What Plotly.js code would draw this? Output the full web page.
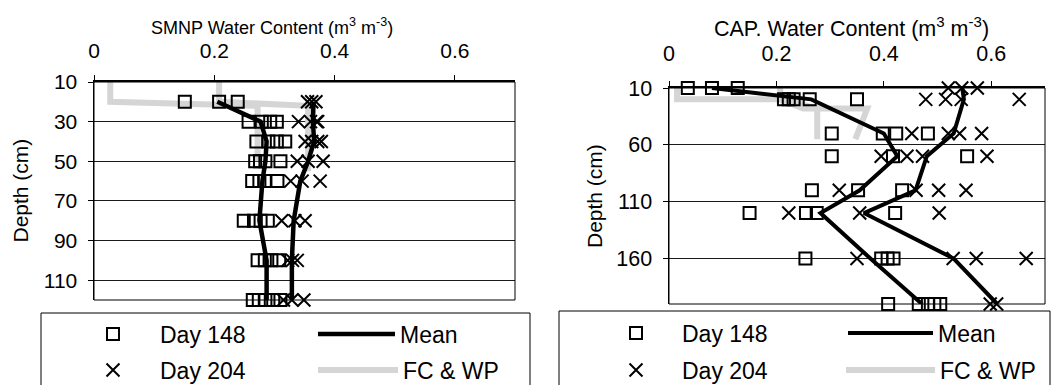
<!DOCTYPE html>
<html>
<head>
<meta charset="utf-8">
<script src="https://cdn.plot.ly/plotly-3.0.1.min.js"></script>
<style>html,body{margin:0;padding:0;background:#fff;overflow:hidden;width:1058px;height:385px;}#chart{width:1058px;height:420px;}</style>
</head>
<body>
<div id="chart"></div>
<script>
// ---------- SMNP (left panel) ----------
const smnpDepth148 = [20,20,20, 30,30,30,30, 40,40,40,40, 50,50,50,50, 60,60,60,60, 80,80,80,80, 100,100,100,100, 120,120,120,120,120];
const smnpDay148   = [0.151,0.208,0.239, 0.257,0.279,0.293,0.304, 0.270,0.290,0.304,0.318, 0.268,0.276,0.285,0.310, 0.263,0.275,0.284,0.305, 0.249,0.266,0.277,0.289, 0.272,0.284,0.295,0.308, 0.264,0.274,0.285,0.298,0.310];
const smnpDepth204 = [20,20,20, 30,30,30,30, 40,40,40,40, 50,50,50, 60,60,60, 80,80,80, 100,100,100, 120,120,120];
const smnpDay204   = [0.355,0.362,0.369, 0.340,0.360,0.370,0.372, 0.351,0.362,0.372,0.378, 0.338,0.356,0.381, 0.327,0.346,0.376, 0.312,0.334,0.351, 0.322,0.330,0.338, 0.315,0.329,0.349];
const smnpMeanDepth = [20,30,40,50,60,80,100,120];
const smnpMean148   = [0.205,0.277,0.287,0.285,0.280,0.275,0.287,0.287];
const smnpMean204   = [0.365,0.364,0.366,0.356,0.343,0.332,0.329,0.329];
const smnpWPDepth = [10,20,22,50];
const smnpWP      = [0.027,0.027,0.272,0.272];
const smnpFCDepth = [10,20,22,55];
const smnpFC      = [0.208,0.208,0.356,0.356];

// ---------- CAP (right panel) ----------
const capDepth148 = [10,10,10, 20,20,20,20,20, 50,50,50,50, 70,70,70, 100,100,100, 120,120,120,120, 160,160,160,160, 200,200,200,200,200];
const capDay148   = [0.035,0.080,0.128, 0.214,0.223,0.232,0.262,0.350, 0.303,0.398,0.423,0.482, 0.303,0.417,0.555, 0.266,0.352,0.434, 0.150,0.255,0.275,0.421, 0.254,0.395,0.407,0.418, 0.408,0.465,0.482,0.494,0.505];
const capDepth204 = [10,10,10, 20,20,20,20, 50,50,50,50, 70,70,70,70, 100,100,100,100, 120,120,120, 160,160,160,160, 200,200];
const capDay204   = [0.520,0.545,0.574, 0.478,0.515,0.544,0.652, 0.452,0.520,0.541,0.582, 0.395,0.443,0.472,0.592, 0.317,0.460,0.502,0.553, 0.223,0.355,0.503, 0.350,0.529,0.572,0.665, 0.598,0.610];
const capMeanDepth = [10,20,50,70,100,120,160,200];
const capMean148   = [0.080,0.265,0.400,0.425,0.355,0.282,0.375,0.471];
const capMean204   = [0.546,0.549,0.530,0.480,0.459,0.363,0.530,0.611];
const capWPDepth = [10,20,20,28,55];
const capWP      = [0.015,0.015,0.210,0.276,0.276];
const capFCDepth = [10,20,28,28,55];
const capFC      = [0.207,0.207,0.250,0.369,0.347];

// ---------- tick labels / text ----------
const xTickVals = [0,0.2,0.4,0.6];
const xTickText = ['0','0.2','0.4','0.6'];
const smnpYTicks = [10,30,50,70,90,110];
const capYTicks  = [10,60,110,160];
const names = {d148:'Day 148', d204:'Day 204', mean:'Mean', fcwp:'FC & WP'};

// figure is drawn a little taller than the 385px window so the legend boxes run off the bottom edge
const W = 1058, H = 420;
const px = v => v / W;
const py = v => 1 - v / H;
const FONT = 'Liberation Sans, Arial, sans-serif';

const grey = {color:'#d5d5d5', width:6};
const sqMarker = {symbol:'square-open', size:12, color:'#000', line:{width:2, color:'#000'}};
const xMarker  = {symbol:'x-thin-open', size:13, color:'#000', line:{width:2, color:'#000'}};

function panel(xa, ya, lg, d) {
  return [
    {x:d.wp, y:d.wpD, xaxis:xa, yaxis:ya, mode:'lines', line:grey, name:names.fcwp, legend:lg[3], showlegend:true, hoverinfo:'skip'},
    {x:d.fc, y:d.fcD, xaxis:xa, yaxis:ya, mode:'lines', line:grey, name:names.fcwp, legend:lg[3], showlegend:false, hoverinfo:'skip'},
    {x:d.v148, y:d.d148, xaxis:xa, yaxis:ya, mode:'markers', marker:sqMarker, cliponaxis:false, name:names.d148, legend:lg[0], showlegend:true},
    {x:d.v204, y:d.d204, xaxis:xa, yaxis:ya, mode:'markers', marker:xMarker, cliponaxis:false, name:names.d204, legend:lg[1], showlegend:true},
    {x:d.m148, y:d.mD, xaxis:xa, yaxis:ya, mode:'lines', line:{color:'#000', width:d.mw}, name:names.mean, legend:lg[2], showlegend:true},
    {x:d.m204, y:d.mD, xaxis:xa, yaxis:ya, mode:'lines', line:{color:'#000', width:d.mw}, name:names.mean, legend:lg[2], showlegend:false}
  ];
}

const data = [].concat(
  panel('x','y',['legend','legend2','legend3','legend4'],
    {wp:smnpWP, wpD:smnpWPDepth, fc:smnpFC, fcD:smnpFCDepth, v148:smnpDay148, d148:smnpDepth148, v204:smnpDay204, d204:smnpDepth204, m148:smnpMean148, m204:smnpMean204, mD:smnpMeanDepth, mw:4.5}),
  panel('x2','y2',['legend5','legend6','legend7','legend8'],
    {wp:capWP, wpD:capWPDepth, fc:capFC, fcD:capFCDepth, v148:capDay148, d148:capDepth148, v204:capDay204, d204:capDepth204, m148:capMean148, m204:capMean204, mD:capMeanDepth, mw:4})
);

function xAxis(dom, anchor, fs, standoff) {
  return {domain:dom, anchor:anchor, side:'top', range:[0,0.7], tickvals:xTickVals, ticktext:xTickText,
    ticks:'outside', ticklen:5, tickwidth:1, tickcolor:'#000', showline:true, linecolor:'#000', linewidth:2,
    ticklabelstandoff:standoff,
    showgrid:false, zeroline:false, tickfont:{family:FONT, size:fs, color:'#000'}, fixedrange:true};
}
function yAxis(dom, anchor, range, ticks, fs) {
  return {domain:dom, anchor:anchor, range:range, tickvals:ticks, ticktext:ticks.map(String),
    ticks:'outside', ticklen:5, tickwidth:1, tickcolor:'#000', showline:true, linecolor:'#000', linewidth:1.5,
    ticklabelstandoff:6,
    showgrid:true, gridcolor:'#1a1a1a', gridwidth:1, zeroline:false, tickfont:{family:FONT, size:fs, color:'#000'}, fixedrange:true};
}

function leg(xLeft, yMid, itemw) {
  return {x:px(xLeft), y:py(yMid), xanchor:'left', yanchor:'middle', orientation:'v', bgcolor:'rgba(0,0,0,0)',
    borderwidth:0, itemwidth:itemw, font:{family:FONT, size:23, color:'#000'}, itemclick:false, itemdoubleclick:false};
}

const layout = {
  width:W, height:H, margin:{l:0,r:0,t:0,b:0}, paper_bgcolor:'#fff', plot_bgcolor:'rgba(0,0,0,0)',
  showlegend:true,
  font:{family:FONT, color:'#000'},
  xaxis: xAxis([px(94), px(515)], 'y', 21, 9),
  yaxis: yAxis([py(300), py(82)], 'x', [120,10], smnpYTicks, 21),
  xaxis2: xAxis([px(669), px(1045)], 'y2', 21.5, 11),
  yaxis2: yAxis([py(304), py(88)], 'x2', [200,10], capYTicks, 21.5),
  legend:  leg(66, 334, 84),
  legend2: leg(66, 370, 84),
  legend3: leg(313, 334, 77),
  legend4: leg(313, 370, 80),
  legend5: leg(590, 333, 82),
  legend6: leg(590, 370, 82),
  legend7: leg(843, 333, 85),
  legend8: leg(841, 370, 89),
  shapes: [
    {type:'rect', xref:'x domain', yref:'y domain', x0:0, x1:1, y0:0, y1:1, line:{color:'#000', width:1}, layer:'above'},
    {type:'rect', xref:'x2 domain', yref:'y2 domain', x0:0, x1:1, y0:0, y1:1, line:{color:'#000', width:1}, layer:'above'},
    {type:'rect', xref:'paper', yref:'paper', x0:px(41), x1:px(530), y0:-0.05, y1:py(313), line:{color:'#000', width:1}, fillcolor:'rgba(0,0,0,0)', layer:'above'},
    {type:'rect', xref:'paper', yref:'paper', x0:px(559), x1:px(1050), y0:-0.05, y1:py(311), line:{color:'#000', width:1}, fillcolor:'rgba(0,0,0,0)', layer:'above'}
  ],
  annotations: [
    {text:'SMNP Water Content (m<sup>3</sup> m<sup>-3</sup>)', xref:'paper', yref:'paper', x:px(272), y:py(26), xanchor:'center', yanchor:'middle', showarrow:false, font:{family:FONT, size:18, color:'#000'}},
    {text:'CAP. Water Content (m<sup>3</sup> m<sup>-3</sup>)', xref:'paper', yref:'paper', x:px(851), y:py(27), xanchor:'center', yanchor:'middle', showarrow:false, font:{family:FONT, size:21.5, color:'#000'}},
    {text:'Depth (cm)', xref:'paper', yref:'paper', x:px(20.5), y:py(191), xanchor:'center', yanchor:'middle', textangle:-90, showarrow:false, font:{family:FONT, size:21, color:'#000'}},
    {text:'Depth (cm)', xref:'paper', yref:'paper', x:px(594), y:py(196), xanchor:'center', yanchor:'middle', textangle:-90, showarrow:false, font:{family:FONT, size:21, color:'#000'}}
  ]
};

Plotly.newPlot('chart', data, layout, {displayModeBar:false, staticPlot:true});
</script>
</body>
</html>
